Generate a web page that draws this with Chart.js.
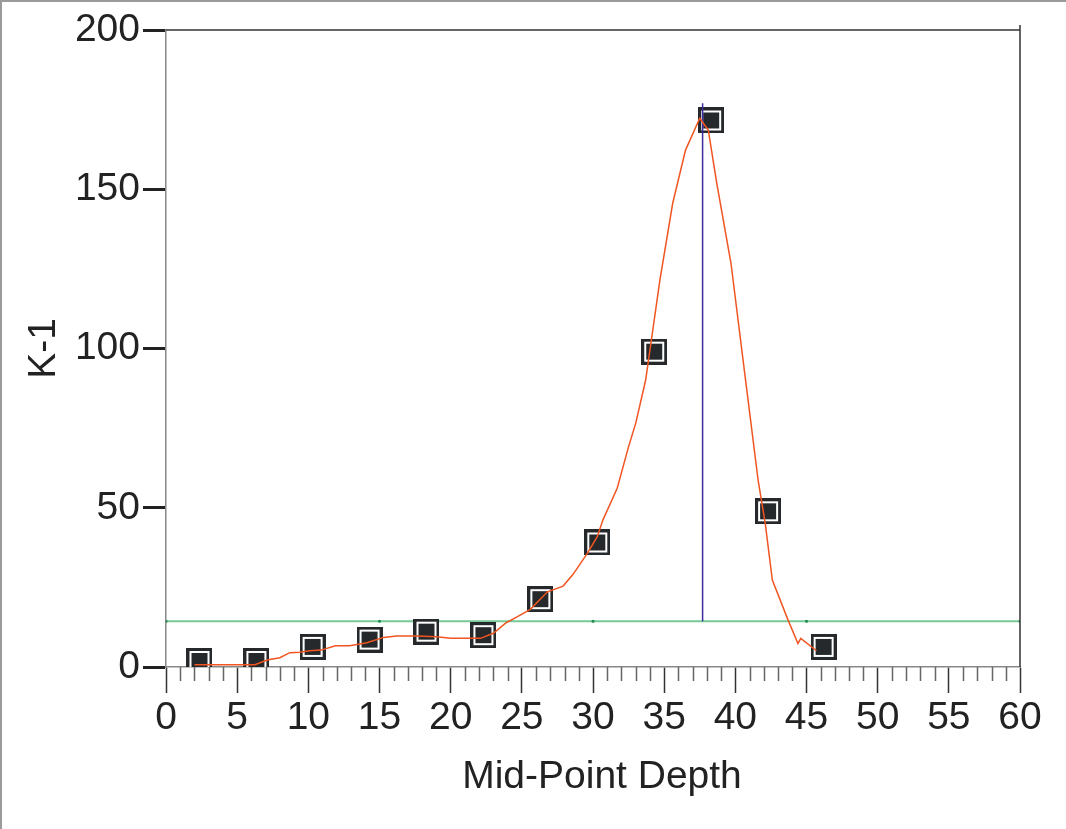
<!DOCTYPE html>
<html>
<head>
<meta charset="utf-8">
<script src="https://cdn.jsdelivr.net/npm/chart.js@4/dist/chart.umd.min.js"></script>
<style>
  html, body { margin: 0; padding: 0; background: #fff; }
  #wrap { width: 1066px; height: 829px; position: relative; }
</style>
</head>
<body>
<div id="wrap"><canvas id="myChart" width="1066" height="829"></canvas></div>
<script>
//////// Data ////////
const depth = [2.35, 6.35, 10.3, 14.3, 18.3, 22.3, 26.3, 30.3, 34.3, 38.3, 42.3, 46.2];
const k1 = [1.9, 1.9, 6.3, 8.6, 11.1, 10.0, 21.3, 39.1, 99.0, 171.6, 48.9, 6.3];

// fitted curve (orange)
const fitX = [2.0, 6.25, 7.1, 8.0, 8.7, 9.4, 10.1, 10.9, 11.9, 12.9, 14.1, 15.3, 16.2, 17.6, 19.0, 20.0, 22.1, 23.0, 23.9, 24.6, 25.6, 26.8, 27.9, 28.6, 29.6, 30.3, 30.7, 31.7, 32.5, 33.0, 33.7, 34.7, 35.6, 36.5, 37.5, 38.1, 38.7, 39.7, 40.6, 41.6, 42.1, 42.6, 43.7, 44.4, 44.6, 45.7];
const fitY = [0.7, 0.7, 2.2, 2.9, 4.5, 4.6, 5.1, 5.3, 6.7, 6.7, 7.6, 9.3, 9.7, 9.7, 9.5, 9.0, 9.0, 10.6, 13.9, 15.6, 18.1, 23.6, 25.4, 29.1, 35.7, 40.9, 46.2, 56.1, 69.2, 76.5, 90.1, 121.5, 145.6, 162.3, 172.3, 168.6, 151.8, 126.6, 94.3, 58.7, 45.1, 27.3, 14.8, 7.4, 9.0, 5.1];

const thresholdX = [0, 15, 30, 45, 60];
const thresholdY = 14.4;
const peakDepth = 37.7;
const peakTop = 177;

const xRange = [0, 60];
const yRange = [0, 200];
const xTitle = "Mid-Point Depth";

//////// Marker style ////////
const makeMarker = function () {
  const c = document.createElement("canvas");
  c.width = 26;
  c.height = 26;
  const g = c.getContext("2d");
  g.fillStyle = "#25292b";
  g.fillRect(0, 0, 26, 26);
  g.strokeStyle = "#ffffff";
  g.lineWidth = 2;
  g.strokeRect(4, 4, 18, 18);
  g.fillStyle = "#25292b";
  g.fillRect(6, 6, 14, 14);
  return c;
};
const marker = makeMarker();

const font = "'Liberation Sans', Arial, sans-serif";

//////// Plugins ////////
const framePlugin = {
  id: "frame",
  beforeDraw(chart) {
    const ctx = chart.ctx;
    ctx.save();
    ctx.fillStyle = "#9a9a9a";
    ctx.fillRect(0, 0, chart.width, 2);
    ctx.fillRect(0, 0, 2, chart.height);
    ctx.restore();
  },
  afterDatasetsDraw(chart) {
    const { ctx, chartArea } = chart;
    const x = chart.scales.x;
    ctx.save();
    // top and right border
    ctx.strokeStyle = "#333";
    ctx.lineWidth = 1.5;
    ctx.beginPath();
    ctx.moveTo(chartArea.left, chartArea.top);
    ctx.lineTo(chartArea.right, chartArea.top);
    ctx.moveTo(chartArea.right, chartArea.top - 5);
    ctx.lineTo(chartArea.right, chartArea.bottom);
    ctx.stroke();
    // minor ticks
    ctx.strokeStyle = "#666";
    ctx.lineWidth = 1.5;
    ctx.beginPath();
    for (let v = x.min; v <= x.max; v++) {
      if (v % 5 === 0) continue;
      const px = Math.round(x.getPixelForValue(v)) + 0.5;
      ctx.moveTo(px, chartArea.bottom);
      ctx.lineTo(px, chartArea.bottom + 14);
    }
    ctx.stroke();
    // x axis title, sits a bit right of centre in the original
    ctx.fillStyle = "#222";
    ctx.font = "39px " + font;
    ctx.textAlign = "center";
    ctx.textBaseline = "middle";
    ctx.fillText(xTitle, (chartArea.left + chartArea.right) / 2 + 9, 777);
    ctx.restore();
  },
};

//////// Chart ////////
const ctx = document.getElementById("myChart");
const myChart = new Chart(ctx, {
  type: "scatter",
  data: {
    datasets: [
      {
        label: "fit",
        type: "line",
        data: fitX.map((x, i) => ({ x: x, y: fitY[i] })),
        borderColor: "#f05522",
        borderWidth: 1.5,
        pointRadius: 0,
        tension: 0,
        fill: false,
      },
      {
        label: "peak",
        type: "line",
        data: [
          { x: peakDepth, y: thresholdY },
          { x: peakDepth, y: peakTop },
        ],
        borderColor: "#3b2c9c",
        borderWidth: 1.5,
        pointRadius: 0,
      },
      {
        label: "K-1",
        data: depth.map((x, i) => ({ x: x, y: k1[i] })),
        pointStyle: marker,
        pointRadius: 13,
        showLine: false,
      },
      {
        label: "threshold",
        type: "line",
        data: thresholdX.map((x) => ({ x: x, y: thresholdY })),
        borderColor: "#74c997",
        borderWidth: 2,
        pointRadius: 1.5,
        pointBackgroundColor: "#1e8a4a",
        pointBorderWidth: 0,
      },
    ],
  },
  options: {
    responsive: false,
    animation: false,
    layout: { padding: { top: 30, right: 46, left: 0, bottom: 0 } },
    scales: {
      x: {
        type: "linear",
        min: xRange[0],
        max: xRange[1],
        afterFit(scale) {
          scale.height = 162;
        },
        ticks: {
          stepSize: 1,
          autoSkip: false,
          maxRotation: 0,
          padding: 2,
          color: "#222",
          font: { family: font, size: 39 },
          callback: (v) => (v % 5 === 0 ? v : ""),
        },
        grid: {
          drawOnChartArea: false,
          tickLength: 26,
          tickWidth: 1.5,
          tickColor: (c) => (c.tick && c.tick.value % 5 === 0 ? "#333" : "rgba(0,0,0,0)"),
        },
        border: { color: "#888", width: 1.5 },
        title: { display: false },
      },
      y: {
        type: "linear",
        min: yRange[0],
        max: yRange[1],
        afterFit(scale) {
          scale.width = 166;
        },
        ticks: {
          stepSize: 50,
          padding: 3,
          color: "#222",
          font: { family: font, size: 39 },
        },
        grid: {
          drawOnChartArea: false,
          tickLength: 23,
          tickWidth: 3,
          tickColor: "#222",
        },
        border: { color: "#888", width: 1.5 },
        title: {
          display: true,
          text: "K-1",
          color: "#222",
          font: { family: font, size: 39 },
          padding: { top: 21, bottom: 0 },
        },
      },
    },
    plugins: {
      legend: { display: false },
      tooltip: { enabled: false },
    },
  },
  plugins: [framePlugin],
});
</script>
</body>
</html>
